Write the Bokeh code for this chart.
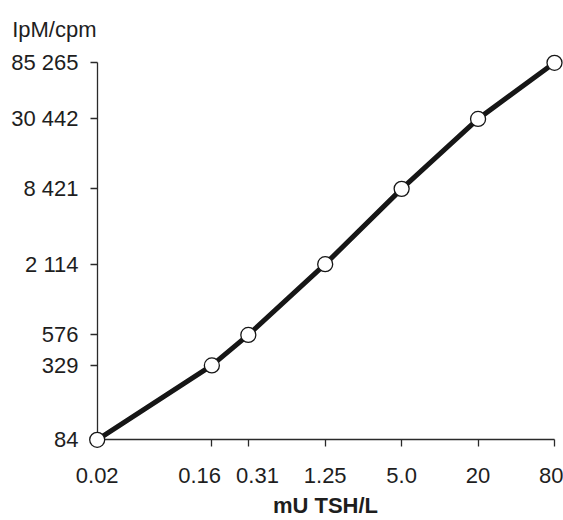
import math
from bokeh.plotting import figure
from bokeh.models import FixedTicker, Range1d, LogAxis
from bokeh.embed import file_html
from bokeh.resources import INLINE

# ---- data ----
dose = [0.02, 0.16, 0.31, 1.25, 5.0, 20, 80]          # mU TSH/L
cpm = [84, 329, 576, 2114, 8421, 30442, 85265]        # IpM/cpm
x_tick_labels = ["0.02", "0.16", "0.31", "1.25", "5.0", "20", "80"]
y_tick_labels = ["84", "329", "576", "2 114", "8 421", "30 442", "85 265"]
x_title = "mU TSH/L"
y_title = "IpM/cpm"

# the two crowded labels are nudged apart (left / right) as in the reference
NB = "\u00a0"
x_label_nudge = [0, -4, 3, 0, 0, 0, 0]


def nudge(text, n):
    return text + NB * (-n) if n < 0 else NB * n + text


# ---- layout (pixels) ----
W, H = 563, 520
FL, FR, FT, FB = 88, 562, 53, 449        # frame edges
X0PX, X1PX = 96.7, 554.0                 # pixel of first / last dose
Y0PX, Y1PX = 439.3, 62.3                 # pixel of first / last cpm


def log_map(v0, v1, p0, p1):
    per = (p1 - p0) / (math.log10(v1) - math.log10(v0))
    return lambda px: 10 ** (math.log10(v0) + (px - p0) / per)


xpx = log_map(dose[0], dose[-1], X0PX, X1PX)
ypx = log_map(cpm[0], cpm[-1], Y0PX, Y1PX)

p = figure(width=W, height=H, x_axis_type="log", y_axis_type="log",
           x_range=Range1d(xpx(FL), xpx(FR)), y_range=Range1d(ypx(FB), ypx(FT)),
           output_backend="svg", toolbar_location=None,
           min_border_left=FL, min_border_right=W - FR,
           min_border_top=FT, min_border_bottom=H - FB)
p.outline_line_color = None
p.xgrid.visible = False
p.ygrid.visible = False

AX = "#2a2a2a"
TXT = "#1e1e1e"
FONT = "Liberation Sans"

# label-only axes at the frame edges
x_labels_shown = [nudge(t, n) for t, n in zip(x_tick_labels, x_label_nudge)]
for ax, ticks, labels in ((p.xaxis[0], dose, x_labels_shown),
                          (p.yaxis[0], cpm, y_tick_labels)):
    ax.ticker = FixedTicker(ticks=ticks, minor_ticks=[])
    ax.major_label_overrides = dict(zip(ticks, labels))
    ax.axis_line_color = None
    ax.major_tick_line_color = None
    ax.minor_tick_line_color = None
    ax.major_tick_out = 0
    ax.major_tick_in = 0
    ax.minor_tick_out = 0
    ax.major_label_text_font = FONT
    ax.major_label_text_font_size = "22px"
    ax.major_label_text_color = TXT

p.xaxis[0].major_label_standoff = 13
p.yaxis[0].major_label_standoff = 10
p.xaxis[0].axis_label = x_title
p.xaxis[0].axis_label_text_font = FONT
p.xaxis[0].axis_label_text_font_size = "22px"
p.xaxis[0].axis_label_text_font_style = "bold"
p.xaxis[0].axis_label_text_color = TXT
p.xaxis[0].axis_label_standoff = 2

# line-and-tick axes crossing at the first point (ticks pointing outward)
x_line_axis = LogAxis(ticker=FixedTicker(ticks=dose, minor_ticks=[]),
                      fixed_location=cpm[0], bounds=(dose[0], dose[-1]))
y_line_axis = LogAxis(ticker=FixedTicker(ticks=cpm, minor_ticks=[]),
                      fixed_location=dose[0], bounds=(cpm[0], cpm[-1]))
for ax in (x_line_axis, y_line_axis):
    ax.axis_line_color = AX
    ax.axis_line_width = 1.3
    ax.major_tick_line_color = AX
    ax.major_tick_line_width = 1.3
    ax.major_tick_in = 7
    ax.major_tick_out = 0
    ax.minor_tick_line_color = None
    ax.minor_tick_in = 0
    ax.minor_tick_out = 0
    ax.major_label_text_font_size = "0px"
    ax.major_label_text_color = None
    ax.major_label_standoff = 0
p.add_layout(x_line_axis, "above")
p.add_layout(y_line_axis, "right")

# y-axis caption as the (left aligned) title
p.title.text = y_title
p.title.align = "left"
p.title.offset = 11.7 - FL
p.title.standoff = 24
p.title.text_font = FONT
p.title.text_font_size = "22px"
p.title.text_font_style = "normal"
p.title.text_color = TXT

p.line(dose, cpm, line_width=5, line_color="#161616", line_join="round")
r = p.scatter(dose, cpm, size=15, fill_color="white", line_color="#161616",
              line_width=1.3)
r.level = "overlay"

open("out.html", "w").write(file_html(p, INLINE))
